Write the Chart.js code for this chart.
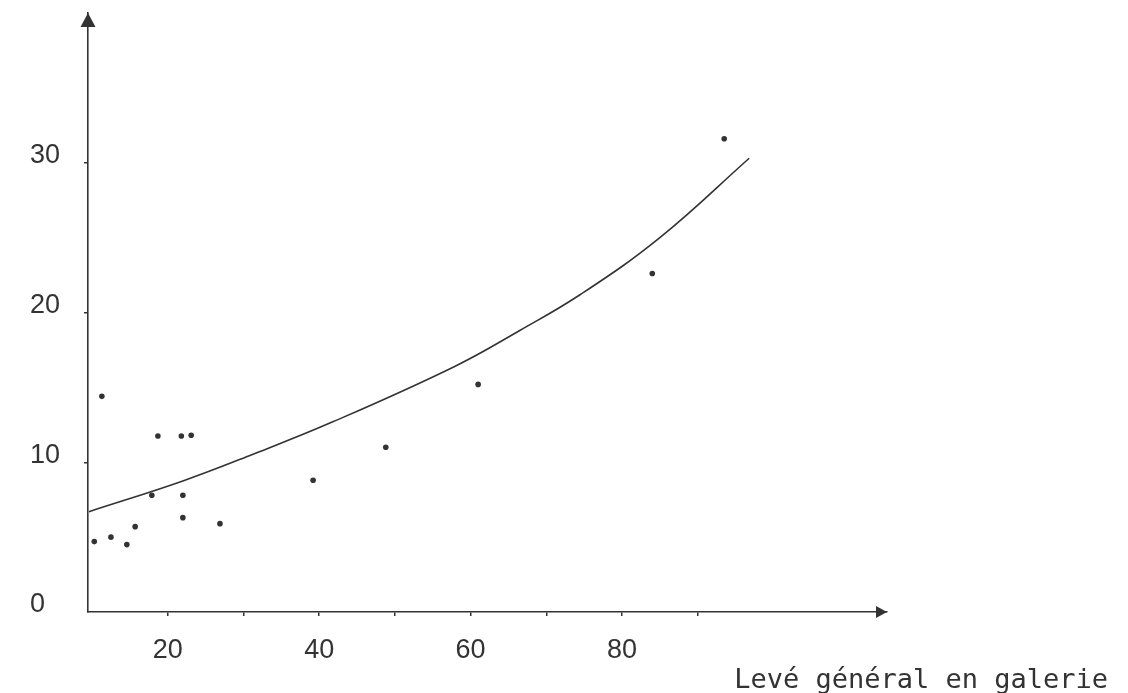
<!DOCTYPE html>
<html>
<head>
<meta charset="utf-8">
<script src="https://cdn.jsdelivr.net/npm/chart.js@4/dist/chart.umd.min.js"></script>
<style>
  html, body { margin: 0; padding: 0; background: #ffffff; }
  #wrap { position: relative; width: 1128px; height: 693px; }
  canvas { display: block; }
</style>
</head>
<body>
<div id="wrap"><canvas id="c" width="1128" height="693"></canvas></div>
<script>
// Observed points (Levé général en galerie vs. ordinate)
const obsX = [10.3, 11.3, 12.5, 14.6, 15.7, 17.9, 18.7, 21.8, 22.0, 22.0, 23.1, 26.9, 39.2, 48.8, 61.0, 84.0, 93.5];
const obsY = [4.7, 14.4, 5.0, 4.5, 5.7, 7.8, 11.75, 11.75, 7.8, 6.3, 11.8, 5.9, 8.8, 11.0, 15.2, 22.6, 31.6];

// Fitted curve
const curveX = [9.6, 22.0, 31.1, 41.8, 57.9, 66.5, 74.5, 85.0, 96.8];
const curveY = [6.7, 8.75, 10.5, 12.7, 16.4, 18.8, 21.2, 25.0, 30.3];

// Axis ticks
const xTickValues = [20, 30, 40, 50, 60, 70, 80, 90];
const xTickLabels = ['20', '', '40', '', '60', '', '80', ''];
const yTickValues = [0, 10, 20, 30];
const yTickLabels = ['0', '10', '20', '30'];

const xTitle = 'Levé général en galerie';

const INK = '#333333';

const arrowsAndTitle = {
  id: 'arrowsAndTitle',
  afterDraw(chart) {
    const ctx = chart.ctx;
    const a = chart.chartArea;
    ctx.save();
    ctx.fillStyle = INK;
    // y-axis arrow
    ctx.beginPath();
    ctx.moveTo(a.left, a.top);
    ctx.lineTo(a.left - 7.5, a.top + 14);
    ctx.lineTo(a.left + 7.5, a.top + 14);
    ctx.closePath();
    ctx.fill();
    // x-axis arrow
    ctx.beginPath();
    ctx.moveTo(a.right, a.bottom);
    ctx.lineTo(a.right - 11, a.bottom - 6);
    ctx.lineTo(a.right - 11, a.bottom + 6);
    ctx.closePath();
    ctx.fill();
    // x-axis title
    ctx.font = '27px "DejaVu Sans Mono", "Liberation Mono", monospace';
    ctx.textAlign = 'right';
    ctx.textBaseline = 'alphabetic';
    ctx.fillText(xTitle, 1108, 688);
    ctx.restore();
  }
};

const tickFont = { family: '"Liberation Sans", Arial, sans-serif', size: 27 };

new Chart(document.getElementById('c'), {
  type: 'scatter',
  data: {
    datasets: [
      {
        label: 'points',
        data: obsX.map((x, i) => ({ x: x, y: obsY[i] })),
        pointRadius: 2.8,
        pointBackgroundColor: INK,
        pointBorderWidth: 0,
        showLine: false
      },
      {
        label: 'courbe',
        data: curveX.map((x, i) => ({ x: x, y: curveY[i] })),
        showLine: true,
        pointRadius: 0,
        borderColor: INK,
        borderWidth: 1.6,
        tension: 0.4,
        fill: false
      }
    ]
  },
  options: {
    responsive: false,
    animation: false,
    events: [],
    layout: { padding: { left: 30, top: 13, right: 241, bottom: 0 } },
    plugins: { legend: { display: false }, tooltip: { enabled: false }, title: { display: false } },
    scales: {
      x: {
        type: 'linear',
        min: 9.47,
        max: 115,
        afterBuildTicks(scale) { scale.ticks = xTickValues.map(v => ({ value: v })); },
        afterFit(scale) { scale.height = 81; scale.paddingLeft = 0; scale.paddingRight = 0; },
        ticks: {
          autoSkip: false,
          maxRotation: 0,
          padding: 18,
          color: INK,
          font: tickFont,
          callback: (v, i) => xTickLabels[i]
        },
        grid: { drawOnChartArea: false, drawTicks: true, tickLength: 4, color: INK, lineWidth: 1.5 },
        border: { display: true, color: INK, width: 1.6 }
      },
      y: {
        type: 'linear',
        min: 0,
        max: 40,
        afterBuildTicks(scale) { scale.ticks = yTickValues.map(v => ({ value: v })); },
        afterFit(scale) { scale.width = 58; scale.paddingTop = 0; scale.paddingBottom = 0; },
        ticks: {
          autoSkip: false,
          padding: 4,
          crossAlign: 'far',
          labelOffset: -7,
          color: INK,
          font: tickFont,
          callback: (v, i) => yTickLabels[i]
        },
        grid: {
          drawOnChartArea: false, drawTicks: true, tickLength: 4, lineWidth: 1.5,
          color: (c) => (c.tick && c.tick.value === 0 ? 'rgba(0,0,0,0)' : INK)
        },
        border: { display: true, color: INK, width: 1.6 }
      }
    }
  },
  plugins: [arrowsAndTitle]
});
</script>
</body>
</html>
